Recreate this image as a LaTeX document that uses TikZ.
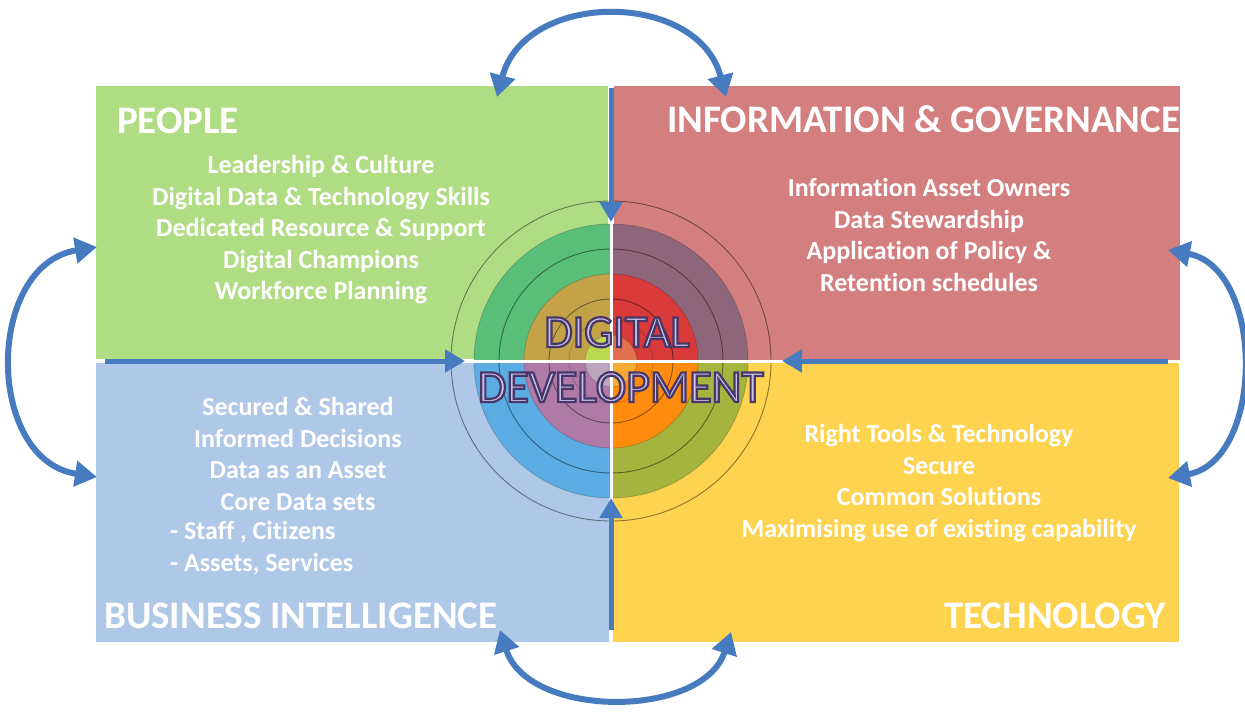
\documentclass[tikz,border=0pt]{standalone}
\usepackage{fontspec}
\setmainfont{Carlito}[Ligatures={NoCommon}]
\usetikzlibrary{arrows.meta}
\definecolor{qgreen}{RGB}{176,221,132}
\definecolor{qred}{RGB}{212,127,127}
\definecolor{qblue}{RGB}{175,200,232}
\definecolor{qyellow}{RGB}{254,211,80}
\definecolor{arrowblue}{RGB}{70,124,191}
\definecolor{tlband}{RGB}{88,190,122}
\definecolor{tlin}{RGB}{196,163,72}
\definecolor{tlc}{RGB}{188,216,80}
\definecolor{trband}{RGB}{142,102,122}
\definecolor{trin}{RGB}{218,58,58}
\definecolor{trc}{RGB}{226,112,80}
\definecolor{blband}{RGB}{90,172,226}
\definecolor{blin}{RGB}{176,122,166}
\definecolor{blc}{RGB}{190,165,190}
\definecolor{brband}{RGB}{165,180,62}
\definecolor{brin}{RGB}{255,140,12}
\definecolor{brc}{RGB}{246,172,52}
\definecolor{ddfill}{RGB}{202,192,232}
\newcommand{\outlined}[1]{\special{pdf:literal direct 2 Tr 2.2 w 0.28 0.22 0.41 RG}#1\special{pdf:literal direct 0 Tr}}
\begin{document}
\begin{tikzpicture}[x=1pt,y=-1pt,
  title/.style={text=white, font=\bfseries\fontsize{39}{42}\selectfont, inner sep=0pt},
  body/.style={text=white, font=\bfseries\fontsize{26}{31.5}\selectfont, inner sep=0pt},
  ddtxt/.style={font=\fontsize{46}{50}\selectfont, inner sep=0pt, anchor=base, text=ddfill},
  straightarrow/.style={draw=arrowblue, line width=5pt, -{Triangle[length=20pt,width=22pt]}},
  curvearrow/.style={draw=arrowblue, line width=6pt, {Triangle[length=22pt,width=25pt]}-{Triangle[length=22pt,width=25pt]}},
  ringline/.style={draw=black, draw opacity=0.45, line width=0.9pt},
  softline/.style={draw=black, draw opacity=0.18, line width=0.8pt}]
\useasboundingbox (0,0) rectangle (1245,712);
\fill[white] (0,0) rectangle (1245,712);

% quadrants
\fill[qgreen]  (96,86)   rectangle (608,359);
\fill[qred]    (614,86)  rectangle (1180,360);
\fill[qblue]   (96,363)  rectangle (609,642);
\fill[qyellow] (613,363) rectangle (1179,642);

% target
\coordinate (c) at (611,361);
\begin{scope}
  \clip (c) rectangle (0,0);
  \fill[tlband] (c) circle[radius=137pt];
  \fill[tlin] (c) circle[radius=87pt];
  \fill[tlc] (c) circle[radius=26pt];
\end{scope}
\begin{scope}
  \clip (c) rectangle (1245,0);
  \fill[trband] (c) circle[radius=137pt];
  \fill[trin] (c) circle[radius=87pt];
  \fill[trc] (c) circle[radius=26pt];
\end{scope}
\begin{scope}
  \clip (c) rectangle (0,712);
  \fill[blband] (c) circle[radius=137pt];
  \fill[blin] (c) circle[radius=87pt];
  \fill[blc] (c) circle[radius=26pt];
\end{scope}
\begin{scope}
  \clip (c) rectangle (1245,712);
  \fill[brband] (c) circle[radius=137pt];
  \fill[brin] (c) circle[radius=87pt];
  \fill[brc] (c) circle[radius=26pt];
\end{scope}
\draw[ringline] (c) circle[radius=160pt];
\draw[softline] (c) circle[radius=137pt];
\draw[ringline] (c) circle[radius=112pt];
\draw[softline] (c) circle[radius=87pt];
\draw[ringline] (c) circle[radius=62pt];
\draw[softline] (c) circle[radius=42pt];
\draw[softline] (c) circle[radius=26pt];
\draw[white, line width=3pt] (450,361) -- (776,361);
\draw[white, line width=3pt] (611,199) -- (611,524);

% straight arrows
\coordinate (tS) at (611,88);   \coordinate (tE) at (611,222);
\coordinate (lS) at (105,361);  \coordinate (lE) at (465,361);
\coordinate (rS) at (1168,361); \coordinate (rE) at (782,361);
\coordinate (bS) at (611,630);  \coordinate (bE) at (611,498);
\draw[straightarrow] (tS) -- (tE);
\draw[straightarrow] (lS) -- (lE);
\draw[straightarrow] (rS) -- (rE);
\draw[straightarrow] (bS) -- (bE);

% curved arrows
\coordinate (ta) at (497,97);   \coordinate (tb) at (726,97);
\coordinate (ba) at (500,630);  \coordinate (bb) at (731,632);
\coordinate (la) at (97,247);   \coordinate (lb) at (97,477);
\coordinate (ra) at (1168,250); \coordinate (rb) at (1168,478);
\draw[curvearrow] (ta) .. controls (525,-10) and (698,-10) .. (tb);
\draw[curvearrow] (ba) .. controls (528,719) and (703,719) .. (bb);
\draw[curvearrow] (la) .. controls (-15,265) and (-15,460) .. (lb);
\draw[curvearrow] (ra) .. controls (1265,268) and (1265,460) .. (rb);

% DIGITAL DEVELOPMENT
\node[ddtxt] (digital) at (617,347) {\outlined{DIGITAL}};
\node[ddtxt] (development) at (621,402) {\outlined{DEVELOPMENT}};

% titles
\node[title, anchor=base west] (people) at (117,133) {PEOPLE};
\node[title, anchor=base west] (infogov) at (667,132) {INFORMATION \& GOVERNANCE};
\node[title, anchor=base west] (busint) at (104,628) {BUSINESS INTELLIGENCE};
\node[title, anchor=base east] (tech) at (1166,628) {TECHNOLOGY};

% body texts
\node[body, align=center] (peoplebody) at (321,230) {Leadership \& Culture\\Digital Data \& Technology Skills\\Dedicated Resource \& Support\\Digital Champions\\Workforce Planning};
\node[body, align=center] (infobody) at (929,235) {Information Asset Owners\\Data Stewardship\\Application of Policy \&\\Retention schedules};
\node[body, align=center] (bibody) at (298,454) {Secured \& Shared\\Informed Decisions\\Data as an Asset\\Core Data sets};
\node[body, align=left, anchor=west] (bilist) at (170,548) {- Staff , Citizens\\- Assets, Services};
\node[body, align=center] (techbody) at (939,483) {Right Tools \& Technology\\Secure\\Common Solutions\\Maximising use of existing capability};
\end{tikzpicture}
\end{document}
